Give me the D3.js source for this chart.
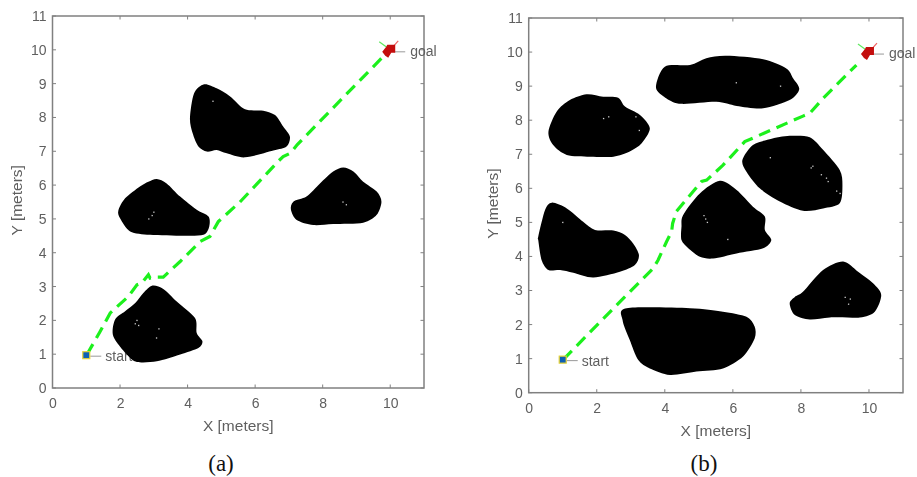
<!DOCTYPE html>
<html><head><meta charset="utf-8">
<script src="https://cdnjs.cloudflare.com/ajax/libs/d3/7.8.5/d3.min.js"></script>
<style>html,body{margin:0;padding:0;background:#fff}svg{display:block}</style>
</head><body><svg id="c" width="917" height="477"></svg>
<script>
const xTicks=[0,2,4,6,8,10];
const yTicks=[0,1,2,3,4,5,6,7,8,9,10,11];
const xTitle="X [meters]", yTitle="Y [meters]";
const startPoint=[1,1], goalPoint=[10,10];

const aObstacles=[
 [[4.49,8.98],[4.86,8.86],[5.26,8.62],[5.70,8.24],[6.24,8.20],[6.59,8.07],[6.83,7.73],[7.03,7.43],[6.93,7.14],[6.54,7.02],[5.70,6.82],[5.16,6.94],[4.86,7.04],[4.57,6.99],[4.32,7.14],[4.15,7.53],[4.07,7.98],[4.19,8.71]],
 [[3.09,6.18],[3.38,6.05],[3.78,5.66],[4.27,5.27],[4.62,5.07],[4.64,4.77],[4.47,4.53],[3.88,4.50],[2.89,4.53],[2.30,4.63],[2.00,5.02],[1.95,5.25],[2.15,5.61],[2.59,5.96],[2.84,6.10]],
 [[8.61,6.52],[8.91,6.40],[9.20,6.10],[9.60,5.81],[9.74,5.51],[9.60,5.12],[9.20,4.89],[8.31,4.85],[7.72,4.82],[7.23,4.97],[7.06,5.27],[7.13,5.51],[7.52,5.66],[7.92,6.05],[8.31,6.40]],
 [[2.96,3.03],[3.28,2.93],[3.68,2.56],[4.22,2.07],[4.27,1.63],[4.44,1.38],[4.32,1.18],[3.78,0.99],[3.09,0.79],[2.50,0.77],[2.20,0.99],[1.80,1.53],[1.85,2.02],[2.15,2.27],[2.45,2.51],[2.69,2.81]]
];
const aPath=[[1.02,0.99],[1.41,1.67],[1.71,2.22],[2.25,2.71],[2.50,3.05],[2.64,3.10],[2.84,3.35],[2.89,3.25],[3.04,3.28],[3.28,3.28],[3.78,3.74],[4.37,4.33],[4.66,4.48],[4.91,4.92],[5.55,5.50],[6.70,6.72],[6.83,6.84],[7.05,6.95],[7.25,7.20],[9.79,9.80]];
const aSpecks=[[4.75,8.48],[2.95,5.1],[2.85,5.0],[3.0,5.2],[8.6,5.5],[8.7,5.42],[2.45,1.9],[2.55,1.85],[2.5,2.0],[3.15,1.75],[3.08,1.48]];

const bObstacles=[
 [[1.70,8.76],[2.19,8.69],[2.63,8.66],[2.83,8.40],[3.27,8.15],[3.56,7.76],[3.32,7.32],[2.97,7.08],[2.49,6.93],[1.80,6.93],[1.12,6.98],[0.72,7.27],[0.58,7.66],[0.82,8.25],[1.21,8.59]],
 [[3.74,8.96],[4.00,9.57],[4.74,9.62],[5.22,9.82],[5.81,9.89],[6.89,9.79],[7.57,9.52],[7.77,9.23],[7.95,8.91],[7.67,8.59],[6.89,8.35],[6.11,8.42],[5.52,8.54],[4.49,8.48],[4.05,8.64]],
 [[7.67,7.54],[8.26,7.50],[8.65,7.13],[9.14,6.54],[9.22,6.10],[9.14,5.56],[8.65,5.41],[8.06,5.34],[7.38,5.61],[6.79,6.00],[6.40,6.49],[6.28,6.83],[6.59,7.27],[7.08,7.44]],
 [[5.62,6.22],[6.11,5.95],[6.59,5.46],[6.94,5.17],[6.94,4.78],[7.13,4.48],[6.89,4.24],[6.11,4.09],[5.42,3.94],[5.03,3.99],[4.69,4.24],[4.49,4.48],[4.49,4.87],[4.54,5.22],[5.03,5.85]],
 [[0.68,5.58],[1.12,5.41],[1.60,5.02],[1.95,4.78],[2.49,4.76],[2.83,4.63],[3.07,4.38],[3.24,4.04],[3.12,3.75],[2.68,3.55],[1.90,3.38],[1.31,3.52],[0.92,3.60],[0.58,3.60],[0.38,3.89],[0.28,4.48],[0.28,4.58],[0.48,5.36]],
 [[2.88,2.48],[4.74,2.48],[5.71,2.38],[6.40,2.23],[6.64,1.94],[6.64,1.59],[6.30,1.06],[5.71,0.71],[4.93,0.62],[4.15,0.52],[3.56,0.71],[3.22,0.96],[2.97,1.55],[2.76,2.13]],
 [[9.24,3.85],[9.68,3.55],[10.12,3.21],[10.36,2.87],[10.17,2.38],[9.73,2.21],[8.85,2.21],[8.26,2.15],[7.82,2.28],[7.67,2.62],[7.82,2.81],[8.06,2.96],[8.65,3.60]]
];
const bPath=[[1.02,0.98],[2.78,2.77],[3.66,3.65],[3.80,3.89],[4.05,4.43],[4.20,4.73],[4.23,4.97],[4.34,5.32],[4.54,5.56],[5.08,6.20],[5.23,6.24],[5.71,6.68],[6.35,7.37],[8.06,8.12],[8.26,8.20],[8.65,8.64],[9.04,9.03],[9.63,9.62]];
const bSpecks=[[6.1,9.1],[7.4,9.0],[2.2,8.05],[2.35,8.1],[3.15,8.1],[3.25,7.7],[5.2,5.1],[5.25,5.0],[5.15,5.2],[5.85,4.5],[7.1,6.9],[8.3,6.6],[8.35,6.65],[8.6,6.4],[8.8,6.2],[9.05,5.92],[9.15,5.85],[8.75,6.3],[9.3,2.8],[9.45,2.75],[9.4,2.6],[1.0,5.0]];

const panels=[
 {obs:aObstacles,path:aPath,specks:aSpecks,caption:"(a)",l:52.5,r:424,t:16,b:388,capX:221},
 {obs:bObstacles,path:bPath,specks:bSpecks,caption:"(b)",l:528.7,r:903,t:18,b:392.7,capX:704}
];
const svg=d3.select("#c");
svg.append("defs").append("filter").attr("id","soft").append("feGaussianBlur").attr("stdDeviation",0.5);
const grey="#5f5f5f", sans="'Liberation Sans',Arial,sans-serif";

panels.forEach(p=>{
 const x=d3.scaleLinear().domain([0,11]).range([p.l,p.r]);
 const y=d3.scaleLinear().domain([0,11]).range([p.b,p.t]);
 const g=svg.append("g").attr("filter","url(#soft)");
 g.append("rect").attr("x",p.l).attr("y",p.t).attr("width",p.r-p.l).attr("height",p.b-p.t)
  .attr("fill","#fff").attr("stroke","#808080").attr("stroke-width",1.5);
 const axes=[
  [d3.axisBottom(x).tickValues(xTicks).tickSize(0).tickPadding(10),`translate(0,${p.b})`],
  [d3.axisLeft(y).tickValues(yTicks).tickSize(0).tickPadding(6),`translate(${p.l},0)`]
 ];
 axes.forEach(([ax,tr])=>{
  const a=g.append("g").attr("transform",tr).call(ax);
  a.select(".domain").remove();
  a.selectAll("text").attr("fill",grey).style("font-family",sans).style("font-size","14px");
 });
 const tk=g.append("g").attr("stroke","#808080").attr("stroke-width",1);
 xTicks.forEach(v=>{
  tk.append("line").attr("x1",x(v)).attr("x2",x(v)).attr("y1",p.b).attr("y2",p.b-3.5);
  tk.append("line").attr("x1",x(v)).attr("x2",x(v)).attr("y1",p.t).attr("y2",p.t+3.5);
 });
 yTicks.forEach(v=>{
  tk.append("line").attr("y1",y(v)).attr("y2",y(v)).attr("x1",p.l).attr("x2",p.l+3.5);
  tk.append("line").attr("y1",y(v)).attr("y2",y(v)).attr("x1",p.r).attr("x2",p.r-3.5);
 });
 g.append("text").attr("x",x(5.5)).attr("y",p.b+43).attr("text-anchor","middle")
  .attr("fill",grey).style("font-family",sans).style("font-size","15.5px").text(xTitle);
 g.append("text").attr("transform",`translate(${p.l-31},${y(5.55)}) rotate(-90)`).attr("text-anchor","middle")
  .attr("fill",grey).style("font-family",sans).style("font-size","15.5px").text(yTitle);

 const sx=x(startPoint[0]), sy=y(startPoint[1]), gx=x(goalPoint[0]), gy=y(goalPoint[1]);
 g.append("line").attr("x1",sx+4).attr("x2",sx+15).attr("y1",sy+2).attr("y2",sy+2).attr("stroke","#999").attr("stroke-width",1);
 g.append("text").attr("x",sx+19).attr("y",sy+7).attr("fill",grey).style("font-family",sans).style("font-size","14px").text("start");
 g.append("line").attr("x1",gx+4).attr("x2",gx+15).attr("y1",gy+2).attr("y2",gy+2).attr("stroke","#999").attr("stroke-width",1);
 g.append("text").attr("x",gx+20).attr("y",gy+6).attr("fill",grey).style("font-family",sans).style("font-size","14px").text("goal");

 const blob=d3.line().x(d=>x(d[0])).y(d=>y(d[1])).curve(d3.curveCardinalClosed.tension(0.15));
 g.selectAll(".ob").data(p.obs).join("path").attr("d",blob).attr("fill","#000");
 g.selectAll(".sp").data(p.specks).join("rect").attr("x",d=>x(d[0])-.6).attr("y",d=>y(d[1])-.6)
  .attr("width",1.3).attr("height",1.3).attr("fill","#ccc");

 const route=d3.line().x(d=>x(d[0])).y(d=>y(d[1]));
 g.append("path").attr("d",route(p.path)).attr("fill","none").attr("stroke","#1cf01c")
  .attr("stroke-width",3.2).attr("stroke-dasharray","12,7");

 g.append("rect").attr("x",sx-3.5).attr("y",sy-2.5).attr("width",7).attr("height",7)
  .attr("fill","#0a5fb4").attr("stroke","#e4d23a").attr("stroke-width",1.2);
 g.append("line").attr("x1",gx-11).attr("y1",gy-8).attr("x2",gx).attr("y2",gy).attr("stroke","#5fe85f").attr("stroke-width",1.2);
 g.append("line").attr("x1",gx+8).attr("y1",gy-9).attr("x2",gx).attr("y2",gy).attr("stroke","#f06060").attr("stroke-width",1.2);
 g.append("path").attr("d",d3.line()([[gx-8,gy+2],[gx-4,gy-3],[gx-3,gy-5],[gx+5,gy-5],[gx+5,gy+3],[gx+1,gy+3],[gx-2,gy+8],[gx-5,gy+6]])+"Z").attr("fill","#c40f0f");

 svg.append("text").attr("x",p.capX).attr("y",471).attr("text-anchor","middle")
  .attr("fill","#111").style("font-family","'Liberation Serif',serif").style("font-size","23px").text(p.caption);
});
</script></body></html>
